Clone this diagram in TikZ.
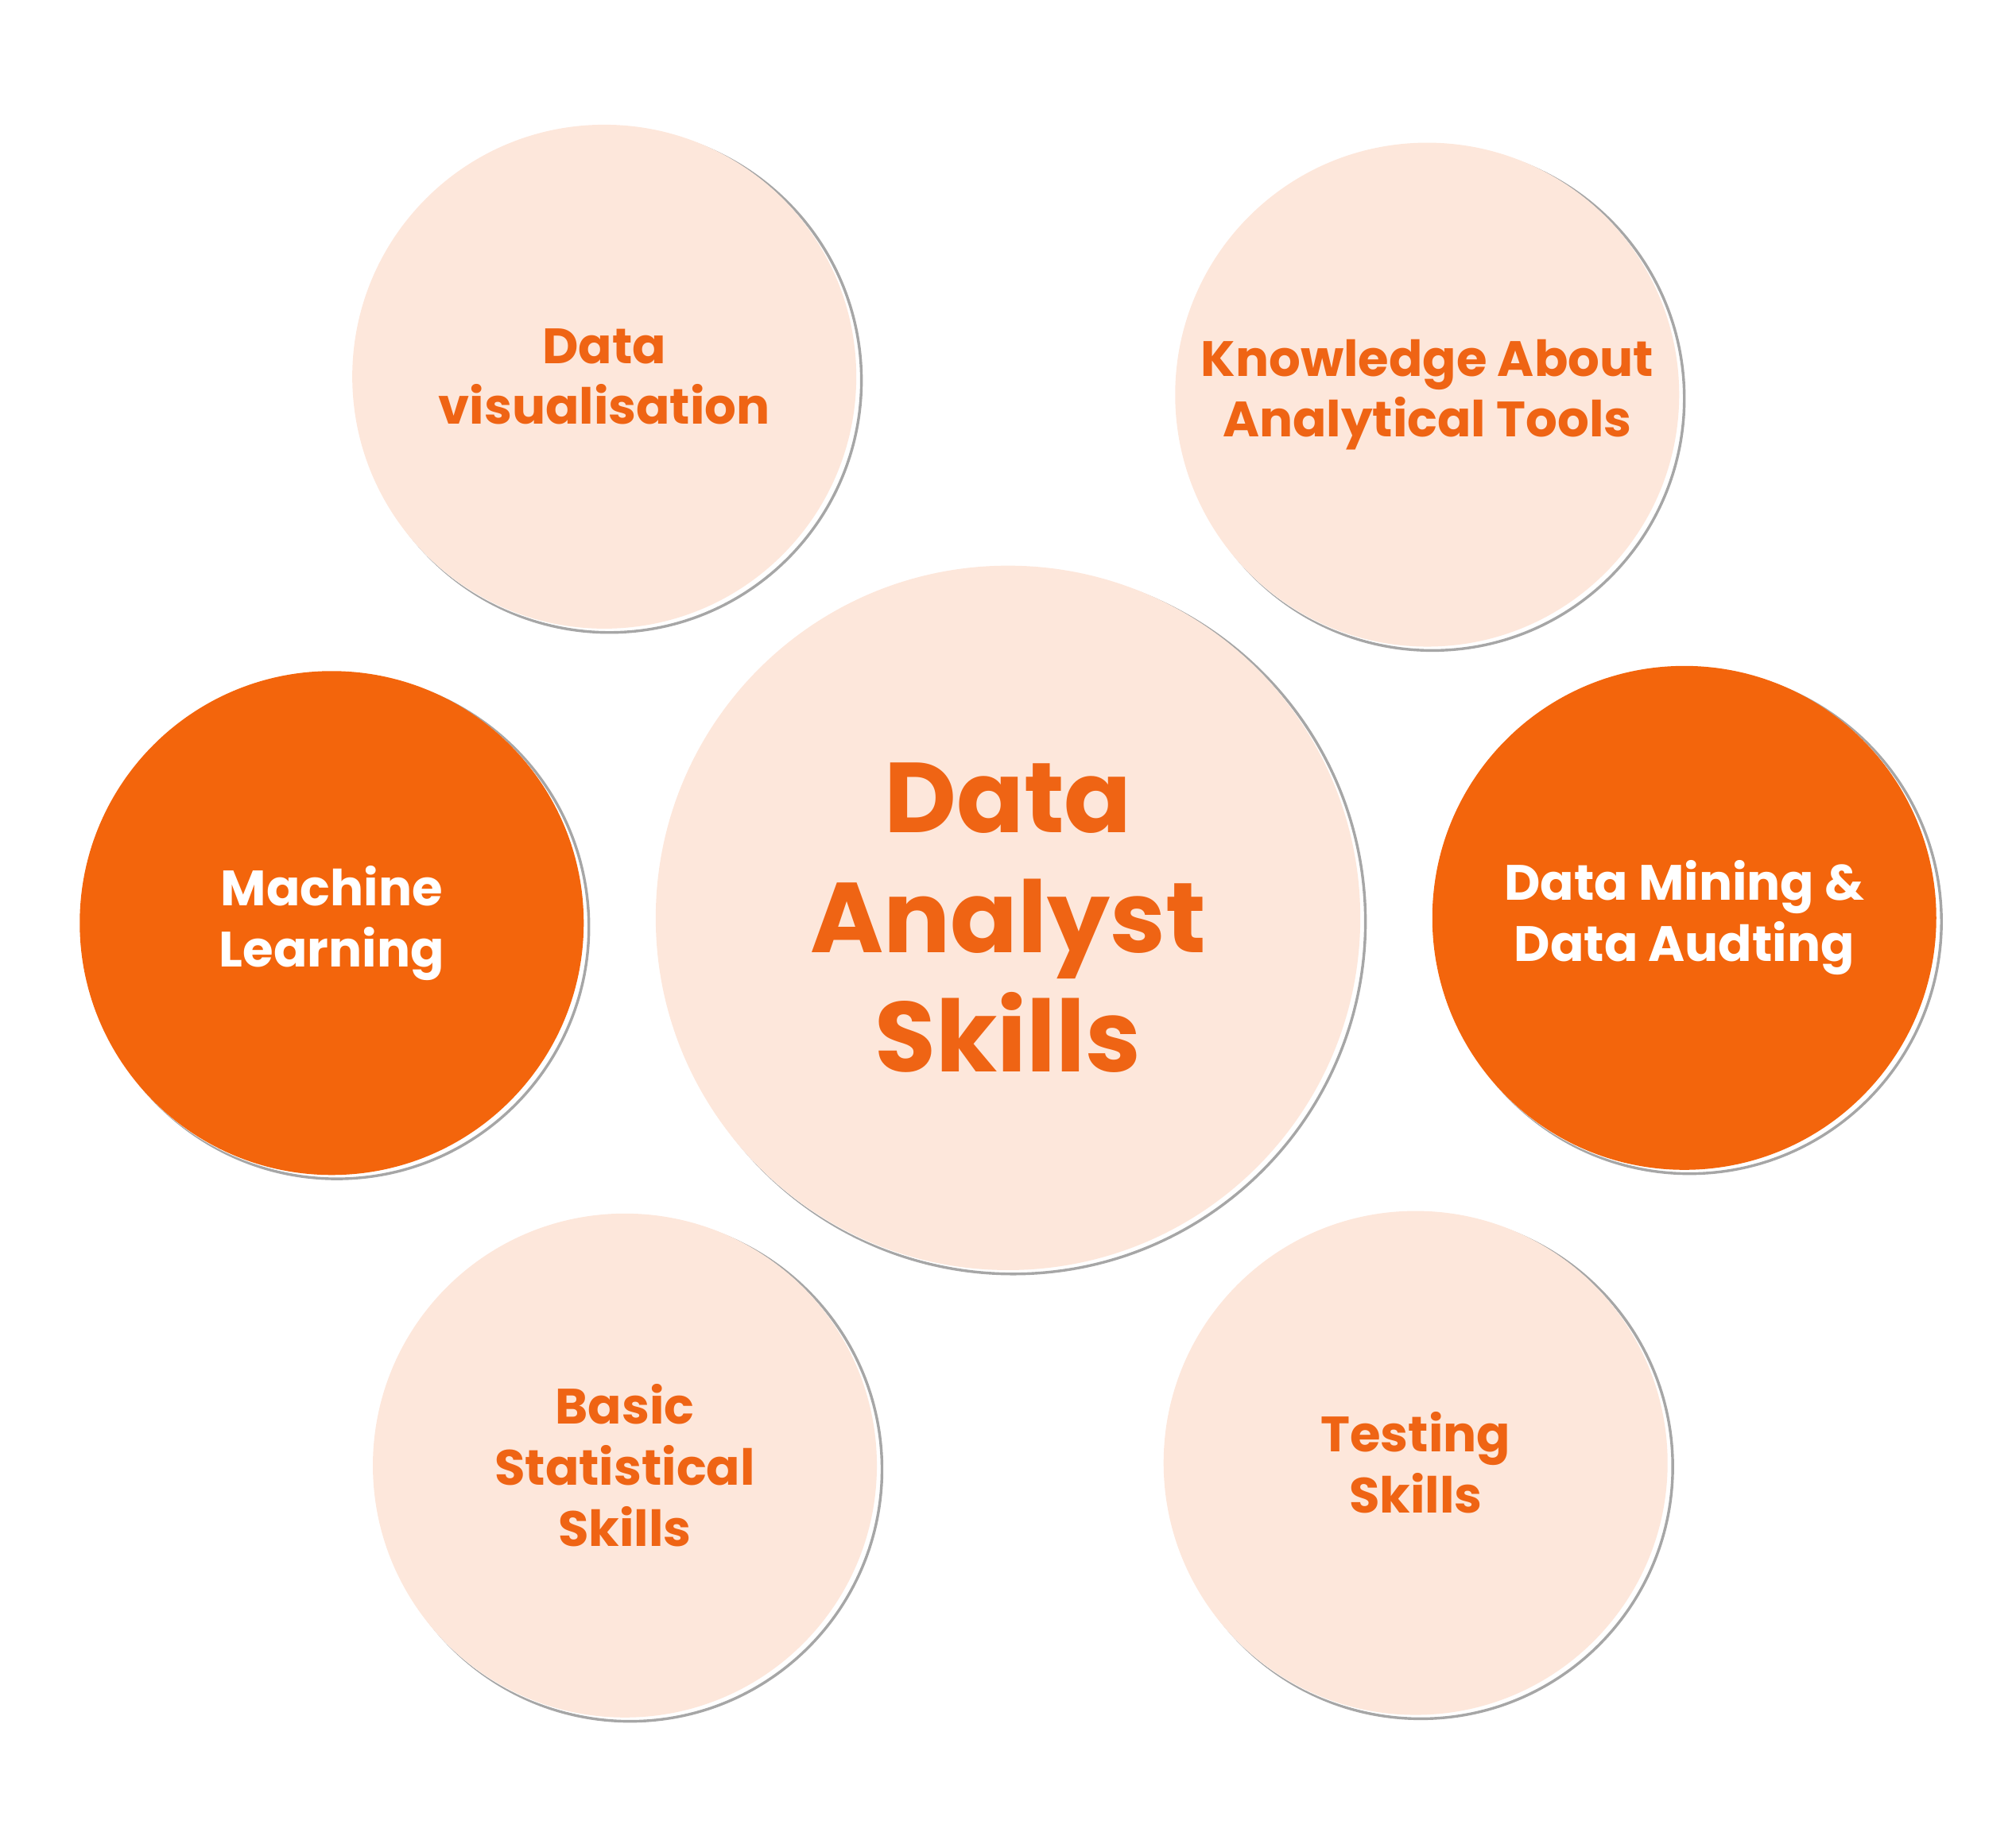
\documentclass[tikz,border=0pt]{standalone}
\usepackage{fontspec}
\setmainfont{Poppins}
\definecolor{darkorange}{HTML}{F3650C}
\definecolor{paleorange}{HTML}{FDE7DB}
\definecolor{textorange}{HTML}{EF6414}
\tikzset{
  bubble/.style={circle, minimum size=392*0.02cm, inner sep=0pt, align=center,
    font=\fontsize{22}{27}\selectfont\bfseries, text=textorange, fill=paleorange},
  darkbubble/.style={bubble, fill=darkorange, text=white},
  bigbubble/.style={bubble, minimum size=548*0.02cm, font=\fontsize{44}{53}\selectfont\bfseries},
  shade ring/.style={draw=gray!70, line width=1.2pt}
}
\begin{document}
\begin{tikzpicture}[x=0.02cm, y=-0.02cm]
  \useasboundingbox (0,0) rectangle (1568,1434);
  % shadows
  \foreach \cx/\cy/\r in {470/293/196, 1110/307/196, 784/714/274, 258/718/196,
                          1310/714/196, 486/1140/196, 1101/1138/196}
  {
    \draw [shade ring] (\cx+4, \cy+3) circle [radius=\r*0.02cm];
    \fill [white] (\cx+1, \cy+1) circle [radius=\r*0.02cm];
  }
  % bubbles
  \node [bigbubble] (core) at (784,714) {Data\\Analyst\\Skills};
  \node [bubble] (vis) at (470,293) {Data\\visualisation};
  \node [bubble] (tools) at (1110,307) {Knowledge About\\Analytical Tools};
  \node [darkbubble] (ml) at (258,718) {Machine\\Learning};
  \node [darkbubble] (mining) at (1310,714) {Data Mining \&\\Data Audting};
  \node [bubble] (stats) at (486,1140) {Basic\\Statistical\\Skills};
  \node [bubble] (testing) at (1101,1138) {Testing\\Skills};
\end{tikzpicture}
\end{document}
